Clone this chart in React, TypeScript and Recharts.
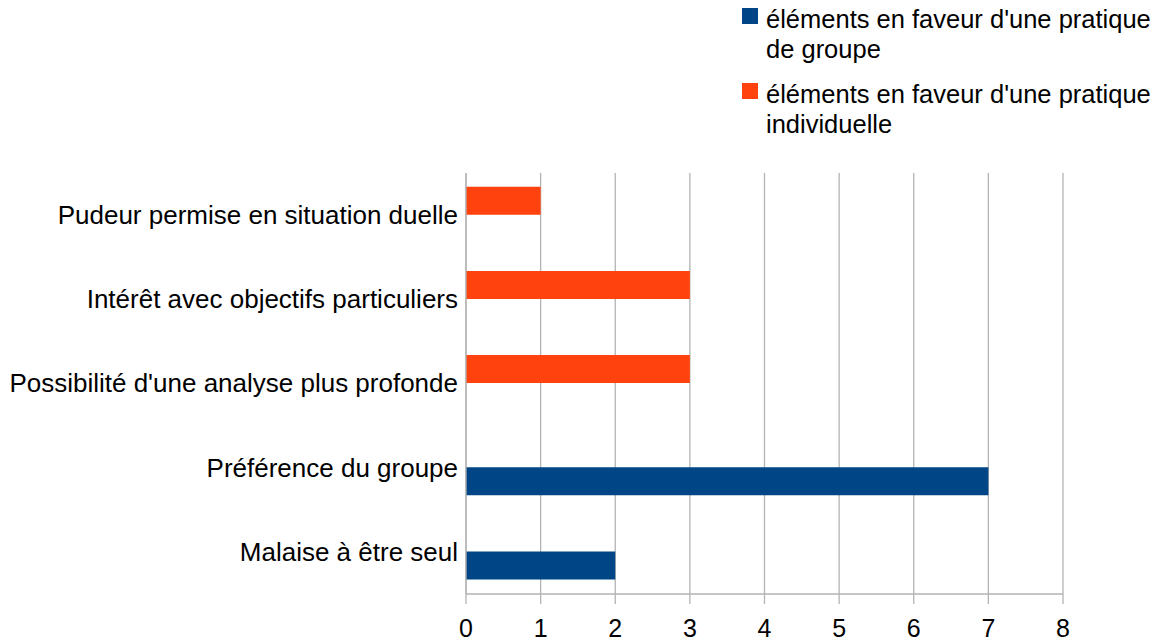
import React from 'react';
import { BarChart, Bar, XAxis, YAxis, CartesianGrid } from 'recharts';

// Categories, top to bottom
const categories = [
  'Pudeur permise en situation duelle',
  'Intérêt avec objectifs particuliers',
  "Possibilité d'une analyse plus profonde",
  'Préférence du groupe',
  'Malaise à être seul',
];

// Counts per category for each series
const groupValues = [0, 0, 0, 7, 2];
const individualValues = [1, 3, 3, 0, 0];

const xTicks = [0, 1, 2, 3, 4, 5, 6, 7, 8];

// Legend labels, already broken into lines
const groupLabel = ["éléments en faveur d'une pratique", 'de groupe'];
const individualLabel = ["éléments en faveur d'une pratique", 'individuelle'];

const BLUE = '#004586';
const ORANGE = '#ff420e';
const GRID = '#b3b3b3';
const FONT = '"Liberation Sans", Arial, sans-serif';

const data = categories.map((name, i) => ({
  name,
  groupe: groupValues[i],
  individuelle: individualValues[i],
}));

const CategoryTick = (props: any) => {
  const { x, y, payload } = props;
  return (
    <g transform={`translate(${x},${y}) scale(1.04,1)`}>
      <text textAnchor="end" dy="0.355em" fontSize={25} fill="#000" fontFamily={FONT}>
        {payload.value}
      </text>
    </g>
  );
};

const ValueTick = (props: any) => {
  const { x, y, payload } = props;
  return (
    <text x={x} y={y} textAnchor="middle" dy={17} fontSize={25} fill="#000" fontFamily={FONT}>
      {payload.value}
    </text>
  );
};

const legendEntries = [
  { color: BLUE, lines: groupLabel },
  { color: ORANGE, lines: individualLabel },
];

const LegendBox = () => (
  <svg
    width={1157}
    height={150}
    style={{ position: 'absolute', left: 0, top: 0, pointerEvents: 'none' }}
  >
    {legendEntries.map((entry, i) => (
      <g key={i} transform={`translate(742,${8 + i * 75})`}>
        <rect x={0} y={0} width={16} height={16} fill={entry.color} />
        {entry.lines.map((line, j) => (
          <g key={j} transform={`translate(24,${20 + j * 30}) scale(1.02,1)`}>
            <text x={0} y={0} fontSize={25} fill="#000" fontFamily={FONT}>
              {line}
            </text>
          </g>
        ))}
      </g>
    ))}
  </svg>
);

export default function App() {
  return (
    <div style={{ position: 'absolute', left: 0, top: 0, width: 1157, height: 641, background: '#fff' }}>
      <BarChart
        width={1157}
        height={641}
        data={data}
        layout="vertical"
        margin={{ top: 173, right: 94, bottom: 0, left: 0 }}
        barCategoryGap="16.3%"
        barGap={0}
      >
        <CartesianGrid horizontal={false} stroke={GRID} strokeWidth={1.3} />
        <XAxis
          type="number"
          domain={[0, 8]}
          ticks={xTicks}
          interval={0}
          height={47}
          tickSize={10}
          tickMargin={16}
          tickLine={{ stroke: GRID, strokeWidth: 1.3 }}
          axisLine={{ stroke: GRID, strokeWidth: 1.3 }}
          tick={<ValueTick />}
        />
        <XAxis
          xAxisId="top"
          orientation="top"
          type="number"
          domain={[0, 8]}
          height={0}
          tick={false}
          tickLine={false}
          axisLine={{ stroke: GRID, strokeWidth: 1.3 }}
        />
        <YAxis
          type="category"
          dataKey="name"
          width={466}
          tickSize={0}
          tickMargin={8}
          tickLine={false}
          interval={0}
          axisLine={{ stroke: GRID, strokeWidth: 1.3 }}
          tick={<CategoryTick />}
        />
        <Bar dataKey="individuelle" fill={ORANGE} isAnimationActive={false} />
        <Bar dataKey="groupe" fill={BLUE} isAnimationActive={false} />
      </BarChart>
      <LegendBox />
    </div>
  );
}
